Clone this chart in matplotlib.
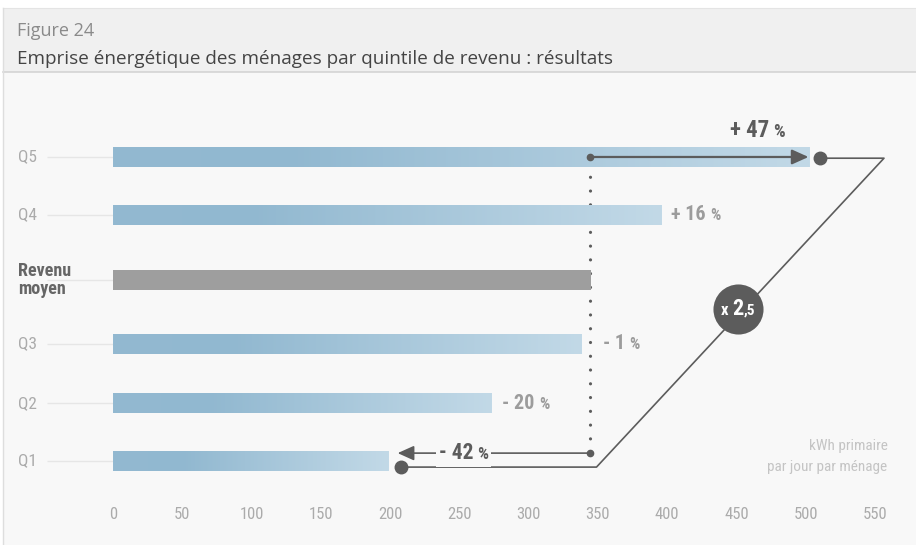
import numpy as np
import matplotlib.pyplot as plt
from matplotlib import font_manager
from matplotlib.colors import LinearSegmentedColormap
from matplotlib.patches import Rectangle
from matplotlib.offsetbox import TextArea, HPacker, AnnotationBbox
import matplotlib.transforms as mtransforms

# data
categories = ["Q5", "Q4", "Revenu\nmoyen", "Q3", "Q2", "Q1"]
values = [503, 396, 345, 338, 273, 199]
changes = ["+ 47", "+ 16", None, "- 1", "- 20", "- 42"]
ratio_main = "2"
ratio_dec = ",5"
xticks = [0, 50, 100, 150, 200, 250, 300, 350, 400, 450, 500, 550]
unit_lines = ["kWh primaire", "par jour par ménage"]
fig_label = "Figure 24"
title = "Emprise énergétique des ménages par quintile de revenu : résultats"

# layout (row positions, top to bottom)
rows = [0, 0.95, 2.02, 3.07, 4.05, 5.0]
bar_h = 0.33

installed = {f.name for f in font_manager.fontManager.ttflist}


def pick(*names):
    for n in names:
        if n in installed:
            return n
    return "DejaVu Sans"


narrow = pick("Liberation Sans Narrow", "Roboto Condensed", "Roboto", "Liberation Sans")
head = pick("Open Sans", "Noto Sans", "DejaVu Sans")

BG = "#f8f8f8"
DARK = "#5c5c5c"
LIGHT = "#9c9c9c"

fig = plt.figure(figsize=(9.16, 5.45), dpi=100)
fig.patch.set_facecolor("white")

# panel background, header band and borders
W, H = 916, 545
fig.add_artist(Rectangle((3 / W, 0), 1, 1 - 72 / H, transform=fig.transFigure,
                         facecolor=BG, edgecolor="none", zorder=-10))
fig.add_artist(Rectangle((3 / W, 1 - 72 / H), 1, 64 / H, transform=fig.transFigure,
                         facecolor="#f0f0f0", edgecolor="none", zorder=-10))
fig.add_artist(plt.Line2D([3 / W, 1], [1 - 72 / H] * 2, transform=fig.transFigure,
                          color="#d4d4d4", lw=1.2, zorder=-9))
fig.add_artist(plt.Line2D([3 / W, 1], [1 - 8 / H] * 2, transform=fig.transFigure,
                          color="#e4e4e4", lw=0.8, zorder=-9))
fig.add_artist(plt.Line2D([3 / W, 3 / W], [0, 1 - 8 / H], transform=fig.transFigure,
                          color="#dedede", lw=1.0, zorder=-9))

fig.text(17 / W, 1 - 31 / H, fig_label, family=head, fontsize=13, color="#8a8a8a",
         va="center", ha="left")
fig.text(17 / W, 1 - 59 / H, title, family=head, fontsize=13.6, color="#444444",
         va="center", ha="left")

ax = fig.add_axes([99.1 / W, 1 - 497.5 / H, 803.6 / W, 377 / H])
ax.set_facecolor("none")

cmap = LinearSegmentedColormap.from_list(
    "bars", [(0, "#93b9d1"), (0.25, "#91b8d0"), (1, "#c2d9e7")])
grad = np.linspace(0, 1, 256).reshape(1, -1)

bars = ax.barh(rows, values, height=bar_h, color="none", edgecolor="none", zorder=3)
for i, (b, v) in enumerate(zip(bars, values)):
    y = rows[i]
    if categories[i].startswith("Revenu"):
        b.set_facecolor("#9e9e9e")
        b.set_zorder(4)
        continue
    im = ax.imshow(grad, cmap=cmap, aspect="auto", zorder=3,
                   extent=[0, v, y + bar_h / 2, y - bar_h / 2])
    im.set_clip_path(b)

# faint leader lines from labels to bars
ax.hlines(rows, -47.5, 0, color="#e6e6e6", lw=1, zorder=1, clip_on=False)

# row labels
lab_tr = mtransforms.blended_transform_factory(fig.transFigure, ax.transData)
for i, c in enumerate(categories):
    if c.startswith("Revenu"):
        ax.text(18 / W, rows[i], c, transform=lab_tr, family=narrow, fontsize=13,
                weight="bold", color="#666666", va="center", ha="left", linespacing=1.0)
    else:
        ax.text(18 / W, rows[i], c, transform=lab_tr, family=narrow, fontsize=12.5,
                color="#ababab", va="center", ha="left")

mean_v = values[2]

# dotted reference line at the average
ax.plot([mean_v - 1, mean_v - 1], [0.1, rows[-1] - 0.13], color=DARK, lw=2.3,
        linestyle=(0, (0.01, 4.3)), dash_capstyle="round", zorder=2)

# arrow Q5
ax.plot([mean_v - 1], [rows[0]], "o", color=DARK, ms=4.5, zorder=6)
ax.annotate("", xy=(values[0] - 1, rows[0]), xytext=(mean_v - 1, rows[0]),
            arrowprops=dict(arrowstyle="-|>,head_length=1.0,head_width=0.45",
                            color=DARK, lw=1.6, shrinkA=0, shrinkB=0), zorder=6)

# arrow Q1
y_q1a = rows[-1] - 0.13
ax.plot([mean_v - 1], [y_q1a], "o", color=DARK, ms=4.5, zorder=6)
ax.annotate("", xy=(values[-1] + 6.5, y_q1a), xytext=(mean_v - 1, y_q1a),
            arrowprops=dict(arrowstyle="-|>,head_length=1.0,head_width=0.45",
                            color=DARK, lw=1.2, shrinkA=0, shrinkB=0), zorder=6)

# connector between Q5 and Q1 (ratio)
y_low = rows[-1] + 0.1
x_right = 556.5
ax.plot([values[0] + 7, x_right, mean_v + 4, values[-1] + 9],
        [rows[0] + 0.02, rows[0] + 0.02, y_low, y_low],
        color=DARK, lw=1.2, zorder=5, clip_on=False, solid_joinstyle="round")
ax.plot([values[0] + 7], [rows[0] + 0.02], "o", color=DARK, ms=9, zorder=6, clip_on=False)
ax.plot([values[-1] + 9], [y_low], "o", color=DARK, ms=9, zorder=6, clip_on=False)

# ratio bubble
ax.scatter([451], [2.5], s=1300, color="#5c5c5c", zorder=7, linewidths=0)
rbox = HPacker(children=[
    TextArea("x ", textprops=dict(family=narrow, fontsize=12, weight="bold", color="white")),
    TextArea(ratio_main, textprops=dict(family=narrow, fontsize=16, weight="bold", color="white")),
    TextArea(ratio_dec, textprops=dict(family=narrow, fontsize=11, weight="bold", color="white")),
], align="baseline", pad=0, sep=0)
ax.add_artist(AnnotationBbox(rbox, (451, 2.5), frameon=False, box_alignment=(0.5, 0.5),
                             zorder=8, annotation_clip=False))


def pct_label(txt, xy, color, size, align, bg=False):
    box = HPacker(children=[
        TextArea(txt, textprops=dict(family=narrow, fontsize=size, weight="bold", color=color)),
        TextArea("%", textprops=dict(family=narrow, fontsize=size * 0.8, weight="bold", color=color)),
    ], align="baseline", pad=0, sep=3)
    ab = AnnotationBbox(box, xy, frameon=bg, box_alignment=align, zorder=8,
                        annotation_clip=False, pad=0.22,
                        bboxprops=dict(facecolor=BG, edgecolor="none"))
    ax.add_artist(ab)


pct_label(changes[0], (465, rows[0] - 0.43), DARK, 16.5, (0.5, 0.5))
pct_label(changes[1], (values[1] + 7, rows[1]), LIGHT, 14.5, (0, 0.5))
pct_label(changes[3], (values[3] + 16, rows[3]), LIGHT, 14.5, (0, 0.5))
pct_label(changes[4], (values[4] + 8, rows[4]), LIGHT, 14.5, (0, 0.5))
pct_label(changes[5], (253, y_q1a), DARK, 15.5, (0.5, 0.5), bg=True)

# unit note
ax.text(559, rows[-1] - 0.25, unit_lines[0], family=narrow, fontsize=11,
        color="#c4c4c4", ha="right", va="center")
ax.text(559, rows[-1] + 0.1, unit_lines[1], family=narrow, fontsize=11,
        color="#c4c4c4", ha="right", va="center")

ax.set_xlim(-10, 570)
ax.set_ylim(5.6, -0.6)
ax.set_xticks(xticks)
ax.set_xticklabels([str(t) for t in xticks], family=narrow, fontsize=12, color="#ababab")
ax.tick_params(axis="x", length=0, pad=7)
ax.set_yticks([])
for s in ax.spines.values():
    s.set_visible(False)

fig.savefig("out.png", dpi=100, facecolor=fig.get_facecolor())
